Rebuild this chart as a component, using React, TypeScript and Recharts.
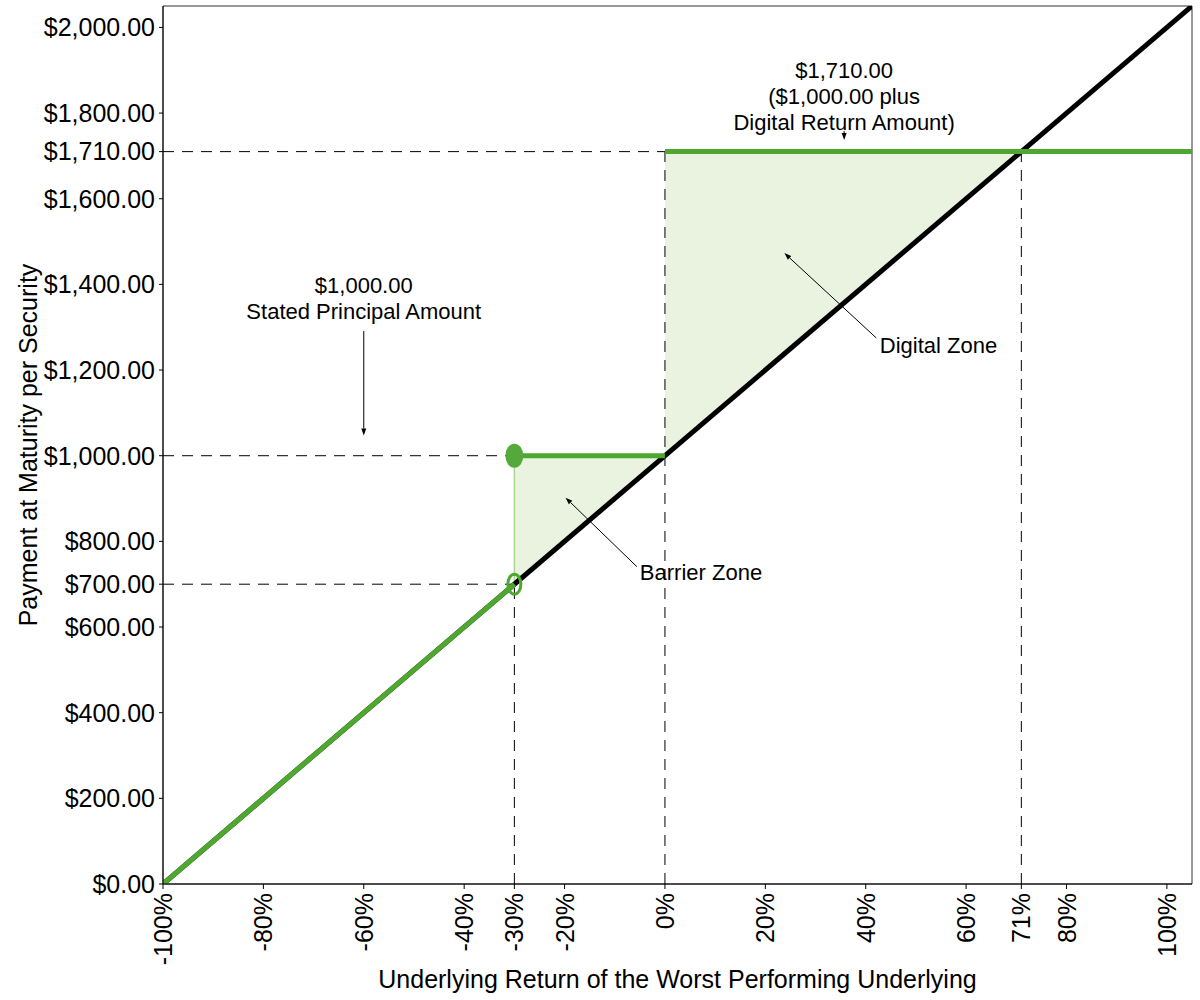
import React from 'react';
import {
  ComposedChart,
  Line,
  Area,
  Scatter,
  XAxis,
  YAxis,
  ReferenceLine,
  ReferenceDot,
  ReferenceArea,
} from 'recharts';

// axis ticks (underlying return in %, payment in $)
const xTicks = [-100, -80, -60, -40, -30, -20, 0, 20, 40, 60, 71, 80, 100];
const yTicks = [0, 200, 400, 600, 700, 800, 1000, 1200, 1400, 1600, 1710, 1800, 2000];

// underlying performance line (1:1)
const underlyingLine = [
  { x: -100, y: 0 },
  { x: 105, y: 2050 },
];

// payoff pieces
const barrierLeg = [
  { x: -100, y: 0 },
  { x: -30, y: 700 },
];
const principalLeg = [
  { x: -30, y: 1000 },
  { x: 0, y: 1000 },
];
const digitalLeg = [
  { x: 0, y: 1710 },
  { x: 105, y: 1710 },
];
const barrierEdge = [
  { x: -30, y: 700 },
  { x: -30, y: 1000 },
];
const filledPoint = [{ x: -30, y: 1000 }];
const openPoint = [{ x: -30, y: 700 }];

// shaded zones between payoff and underlying
const barrierZone = [
  { x: -30, band: [700, 1000] },
  { x: 0, band: [1000, 1000] },
];
const digitalZone = [
  { x: 0, band: [1000, 1710] },
  { x: 71, band: [1710, 1710] },
];

// annotations
const principalNote = { x: -60, y: 1379, lines: ['$1,000.00', 'Stated Principal Amount'] };
const digitalNote = { x: 35.7, y: 1883, lines: ['$1,710.00', '($1,000.00 plus', 'Digital Return Amount)'] };
const digitalZoneNote = { x: 42.8, y: 1239, lines: ['Digital Zone'] };
const barrierZoneNote = { x: -5, y: 710, lines: ['Barrier Zone'] };

const principalArrow = [{ x: -60, y: 1291 }, { x: -60, y: 1047 }];
const digitalArrow = [{ x: 35.7, y: 1758 }, { x: 35.7, y: 1737 }];
const digitalZoneArrow = [{ x: 42.1, y: 1275 }, { x: 23.8, y: 1473 }];
const barrierZoneArrow = [{ x: -5.6, y: 741 }, { x: -19.8, y: 902 }];

const GREEN = '#4ea72e';
const FILL = '#e9f3e0';
const FONT = '"Liberation Sans", Arial, sans-serif';

const fmtMoney = (v: number) =>
  '$' + v.toLocaleString('en-US', { minimumFractionDigits: 2, maximumFractionDigits: 2 });

const XTick = (props: any) => {
  const { x, y, payload } = props;
  return (
    <text
      x={x}
      y={y}
      transform={`rotate(-90, ${x}, ${y})`}
      textAnchor="end"
      dominantBaseline="central"
      fontSize={25}
      fill="#000"
      fontFamily={FONT}
    >
      {`${payload.value}%`}
    </text>
  );
};

const Arrow = (props: any) => {
  const { x1, y1, x2, y2 } = props;
  const ang = Math.atan2(y2 - y1, x2 - x1);
  const len = 7;
  const w = 2.5;
  const bx = x2 - len * Math.cos(ang);
  const by = y2 - len * Math.sin(ang);
  const px = -Math.sin(ang) * w;
  const py = Math.cos(ang) * w;
  return (
    <g>
      <line x1={x1} y1={y1} x2={bx} y2={by} stroke="#000" strokeWidth={1} />
      <polygon points={`${x2},${y2} ${bx + px},${by + py} ${bx - px},${by - py}`} fill="#000" />
    </g>
  );
};

const noteShape = (lines: string[], anchor: 'middle' | 'start') => (p: any) => (
  <text
    x={p.cx}
    y={p.cy}
    textAnchor={anchor}
    fontSize={22}
    fill="#000"
    fontFamily={FONT}
  >
    {lines.map((l, i) => (
      <tspan key={i} x={p.cx} dy={i === 0 ? 0 : 26}>
        {l}
      </tspan>
    ))}
  </text>
);

export default function App() {
  return (
    <div
      style={{
        position: 'absolute',
        left: 0,
        top: 0,
        width: 1200,
        height: 1000,
        background: '#fff',
        fontFamily: FONT,
      }}
    >
      <ComposedChart width={1200} height={1000} margin={{ top: 6, right: 8, bottom: 0, left: 0 }}>
        <XAxis
          type="number"
          dataKey="x"
          domain={[-100, 105]}
          ticks={xTicks}
          interval={0}
          height={116}
          tickSize={5}
          tickMargin={4}
          tick={<XTick />}
          stroke="#000"
          allowDataOverflow
          label={({ viewBox }: any) => (
            <text
              x={viewBox.x + viewBox.width / 2}
              y={979}
              textAnchor="middle"
              dominantBaseline="central"
              fontSize={25}
              fill="#000"
              fontFamily={FONT}
            >
              Underlying Return of the Worst Performing Underlying
            </text>
          )}
        />
        <YAxis
          type="number"
          domain={[0, 2050]}
          ticks={yTicks}
          interval={0}
          width={163}
          tickSize={4}
          tickMargin={4}
          tickFormatter={fmtMoney}
          tick={{ fontSize: 25, fill: '#000', fontFamily: FONT }}
          stroke="#000"
          allowDataOverflow
          label={({ viewBox }: any) => {
            const cy = viewBox.y + viewBox.height / 2;
            return (
              <text
                x={28}
                y={cy}
                transform={`rotate(-90, 28, ${cy})`}
                textAnchor="middle"
                dominantBaseline="central"
                fontSize={25}
                fill="#000"
                fontFamily={FONT}
              >
                Payment at Maturity per Security
              </text>
            );
          }}
        />

        <ReferenceArea x1={-100} x2={105} y1={0} y2={2050} fill="none" stroke="#333" strokeWidth={1} />

        <Area
          data={barrierZone}
          dataKey="band"
          type="linear"
          fill={FILL}
          fillOpacity={1}
          stroke="none"
          isAnimationActive={false}
        />
        <Area
          data={digitalZone}
          dataKey="band"
          type="linear"
          fill={FILL}
          fillOpacity={1}
          stroke="none"
          isAnimationActive={false}
        />

        <ReferenceLine segment={[{ x: -100, y: 1710 }, { x: 0, y: 1710 }]} stroke="#000" strokeDasharray="11 8" />
        <ReferenceLine segment={[{ x: -100, y: 1000 }, { x: -30, y: 1000 }]} stroke="#000" strokeDasharray="11 8" />
        <ReferenceLine segment={[{ x: -100, y: 700 }, { x: -30, y: 700 }]} stroke="#000" strokeDasharray="11 8" />
        <ReferenceLine segment={[{ x: -30, y: 0 }, { x: -30, y: 700 }]} stroke="#000" strokeDasharray="11 8" />
        <ReferenceLine segment={[{ x: 0, y: 0 }, { x: 0, y: 1710 }]} stroke="#000" strokeDasharray="11 8" />
        <ReferenceLine segment={[{ x: 71, y: 0 }, { x: 71, y: 1710 }]} stroke="#000" strokeDasharray="11 8" />

        <Line
          data={barrierEdge}
          dataKey="y"
          type="linear"
          stroke="#a6d893"
          strokeWidth={1.5}
          dot={false}
          activeDot={false}
          isAnimationActive={false}
        />
        <Line
          data={underlyingLine}
          dataKey="y"
          type="linear"
          stroke="#000"
          strokeWidth={5}
          dot={false}
          activeDot={false}
          isAnimationActive={false}
        />
        <Line
          data={barrierLeg}
          dataKey="y"
          type="linear"
          stroke={GREEN}
          strokeWidth={5}
          dot={false}
          activeDot={false}
          isAnimationActive={false}
        />
        <Line
          data={principalLeg}
          dataKey="y"
          type="linear"
          stroke={GREEN}
          strokeWidth={5}
          dot={false}
          activeDot={false}
          isAnimationActive={false}
        />
        <Line
          data={digitalLeg}
          dataKey="y"
          type="linear"
          stroke={GREEN}
          strokeWidth={5}
          dot={false}
          activeDot={false}
          isAnimationActive={false}
        />
        <Scatter
          data={filledPoint}
          dataKey="y"
          isAnimationActive={false}
          shape={(p: any) => <ellipse cx={p.cx} cy={p.cy} rx={9} ry={12} fill="#55a93a" />}
        />
        <Scatter
          data={openPoint}
          dataKey="y"
          isAnimationActive={false}
          shape={(p: any) => (
            <ellipse cx={p.cx} cy={p.cy} rx={6.5} ry={10} fill="none" stroke={GREEN} strokeWidth={3} />
          )}
        />

        <ReferenceLine segment={principalArrow} shape={<Arrow />} />
        <ReferenceLine segment={digitalArrow} shape={<Arrow />} />
        <ReferenceLine segment={digitalZoneArrow} shape={<Arrow />} />
        <ReferenceLine segment={barrierZoneArrow} shape={<Arrow />} />

        <ReferenceDot x={principalNote.x} y={principalNote.y} r={0} shape={noteShape(principalNote.lines, 'middle')} />
        <ReferenceDot x={digitalNote.x} y={digitalNote.y} r={0} shape={noteShape(digitalNote.lines, 'middle')} />
        <ReferenceDot x={digitalZoneNote.x} y={digitalZoneNote.y} r={0} shape={noteShape(digitalZoneNote.lines, 'start')} />
        <ReferenceDot x={barrierZoneNote.x} y={barrierZoneNote.y} r={0} shape={noteShape(barrierZoneNote.lines, 'start')} />
      </ComposedChart>
    </div>
  );
}
